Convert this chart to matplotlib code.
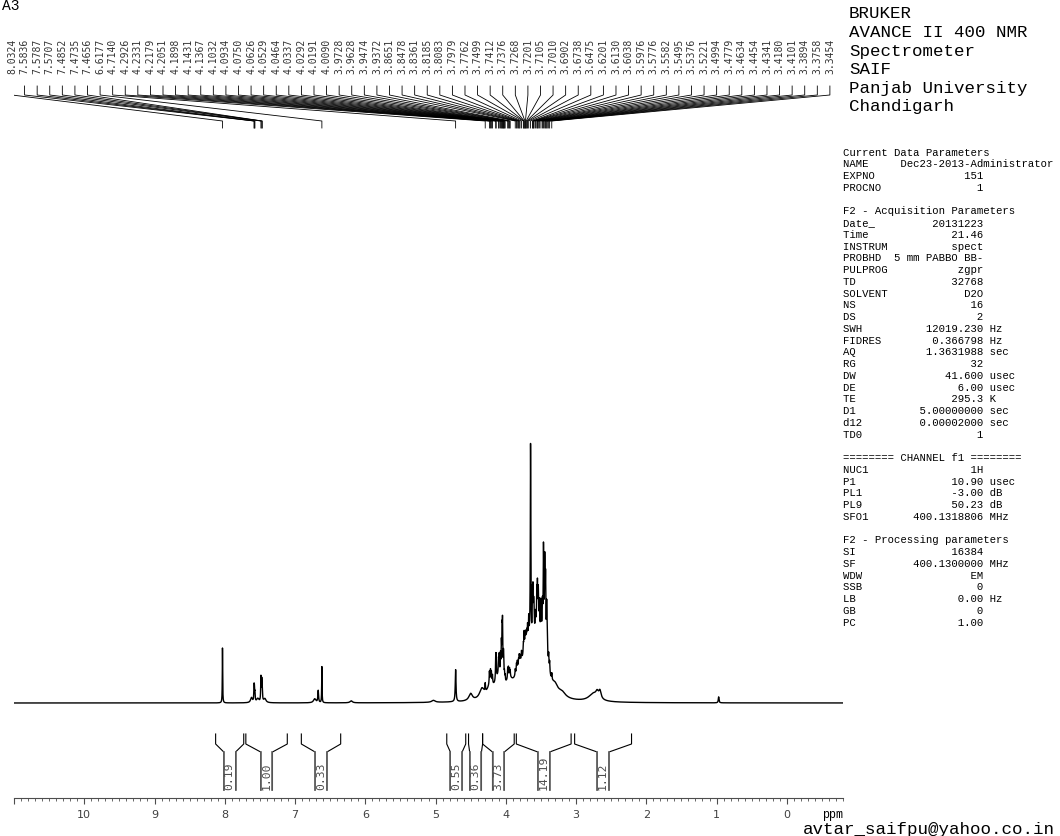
import numpy as np
import matplotlib
matplotlib.use("Agg")
import matplotlib.pyplot as plt
from matplotlib.ticker import FixedLocator, MultipleLocator

# peak picking labels (ppm)
peak_labels = [8.0324, 7.5836, 7.5787, 7.5707, 7.4852, 7.4735, 7.4656, 6.6177,
               4.7140, 4.2926, 4.2331, 4.2179, 4.2051, 4.1898, 4.1431, 4.1367,
               4.1032, 4.0934, 4.0750, 4.0626, 4.0529, 4.0464, 4.0337, 4.0292,
               4.0191, 4.0090, 3.9728, 3.9628, 3.9474, 3.9372, 3.8651, 3.8478,
               3.8361, 3.8185, 3.8083, 3.7979, 3.7762, 3.7499, 3.7412, 3.7376,
               3.7268, 3.7201, 3.7105, 3.7010, 3.6902, 3.6738, 3.6475, 3.6201,
               3.6130, 3.6038, 3.5976, 3.5776, 3.5582, 3.5495, 3.5376, 3.5221,
               3.4994, 3.4779, 3.4634, 3.4454, 3.4341, 3.4180, 3.4101, 3.3894,
               3.3758, 3.3454]
# estimated heights of the picked peaks
peak_heights = [55, 13, 11, 8, 24, 20, 10, 36,
                32, 8, 12, 12, 10, 8, 22, 20,
                14, 18, 20, 30, 40, 50, 20, 15,
                8, 6, 10, 10, 8, 6, 6, 8,
                8, 6, 8, 6, 8, 10, 12, 12,
                12, 12, 10, 10, 14, 20, 195, 40,
                40, 25, 20, 15, 30, 35, 32, 25,
                30, 25, 78, 66, 55, 40, 20, 12,
                10, 6]
peak_widths = [0.003] + [0.004] * 6 + [0.003, 0.006] + [0.004] * 57

# unpicked / broad signals (ppm, height, half width)
extra_pos = [7.62, 7.53, 7.43, 6.67, 6.72, 6.20, 5.03, 4.50, 4.34, 4.22, 4.10,
             3.95, 3.80, 3.68, 3.55, 3.45, 3.30, 3.20, 2.75, 2.66, 2.70, 0.97]
extra_h = [5, 4, 4, 12, 4, 2, 2, 7, 10, 12, 20,
           12, 20, 40, 55, 50, 8, 5, 8, 8, 5, 6]
extra_w = [0.015, 0.02, 0.02, 0.006, 0.02, 0.02, 0.03, 0.03, 0.04, 0.05, 0.06,
           0.06, 0.08, 0.08, 0.07, 0.05, 0.05, 0.06, 0.08, 0.02, 0.02, 0.006]

# integrals: region start, region end, value
int_start = [8.13, 7.70, 6.91, 4.84, 4.53, 4.33, 3.85, 3.02]
int_end = [7.73, 7.11, 6.35, 4.57, 4.33, 3.88, 3.07, 2.21]
int_values = ["0.19", "1.00", "0.33", "0.55", "0.36", "3.73", "14.19", "1.12"]

header = ["BRUKER", "AVANCE II 400 NMR", "Spectrometer", "SAIF",
          "Panjab University", "Chandigarh"]

params = [
    ("Current Data Parameters", None, None),
    ("NAME", "Dec23-2013-Administrator", None),
    ("EXPNO", "151", None),
    ("PROCNO", "1", None),
    ("", None, None),
    ("F2 - Acquisition Parameters", None, None),
    ("Date_", "20131223", None),
    ("Time", "21.46", None),
    ("INSTRUM", "spect", None),
    ("PROBHD", "5 mm PABBO BB-", None),
    ("PULPROG", "zgpr", None),
    ("TD", "32768", None),
    ("SOLVENT", "D2O", None),
    ("NS", "16", None),
    ("DS", "2", None),
    ("SWH", "12019.230", "Hz"),
    ("FIDRES", "0.366798", "Hz"),
    ("AQ", "1.3631988", "sec"),
    ("RG", "32", None),
    ("DW", "41.600", "usec"),
    ("DE", "6.00", "usec"),
    ("TE", "295.3", "K"),
    ("D1", "5.00000000", "sec"),
    ("d12", "0.00002000", "sec"),
    ("TD0", "1", None),
    ("", None, None),
    ("======== CHANNEL f1 ========", None, None),
    ("NUC1", "1H", None),
    ("P1", "10.90", "usec"),
    ("PL1", "-3.00", "dB"),
    ("PL9", "50.23", "dB"),
    ("SFO1", "400.1318806", "MHz"),
    ("", None, None),
    ("F2 - Processing parameters", None, None),
    ("SI", "16384", None),
    ("SF", "400.1300000", "MHz"),
    ("WDW", "EM", None),
    ("SSB", "0", None),
    ("LB", "0.00", "Hz"),
    ("GB", "0", None),
    ("PC", "1.00", None),
]

W, H = 1060, 837
X_LEFT, X_RIGHT = 11.0, -0.8


def fx(px):
    return px / W


def fy(py):
    return 1 - py / H


fig = plt.figure(figsize=(W / 100, H / 100), dpi=100)

# spectrum axes
ax = fig.add_axes([fx(14), fy(799), fx(843) - fx(14), fy(140) - fy(799)])
ppm = np.linspace(X_LEFT, X_RIGHT, 40000)
spec = np.zeros_like(ppm)
for p, h, w in zip(peak_labels + extra_pos, peak_heights + extra_h, peak_widths + extra_w):
    spec += h * w ** 2 / ((ppm - p) ** 2 + w ** 2)
ax.plot(ppm, spec, color="black", lw=1.0)
ax.set_xlim(X_LEFT, X_RIGHT)
ax.set_ylim(-95, 564)

for s in ["top", "left", "right"]:
    ax.spines[s].set_visible(False)
ax.spines["bottom"].set_color("0.3")
ax.spines["bottom"].set_linewidth(0.8)
ax.set_yticks([])
ax.xaxis.set_major_locator(FixedLocator(list(range(0, 12))))
ax.xaxis.set_minor_locator(MultipleLocator(0.1))
ax.set_xticklabels([str(i) if i <= 10 else "" for i in range(0, 12)])
ax.tick_params(axis="x", which="major", direction="out", length=4, width=0.8,
               color="0.3", labelsize=8, labelcolor="0.25", pad=4)
ax.tick_params(axis="x", which="minor", direction="out", length=1.8, width=0.6, color="0.3")

# integral brackets
for a, b, v in zip(int_start, int_end, int_values):
    c = (a + b) / 2
    hw = 0.084
    ax.plot([a, a, c + hw, c + hw], [-31, -41, -49, -87], color="black", lw=0.8)
    ax.plot([b, b, c - hw, c - hw], [-31, -41, -49, -87], color="black", lw=0.8)
    ax.plot([c + hw, c + hw], [-49, -87], color="0.4", lw=1.2)
    ax.plot([c - hw, c - hw], [-49, -87], color="0.4", lw=1.2)
    ax.text(c, -86, v, rotation=90, ha="center", va="bottom", fontsize=8.2,
            family="DejaVu Sans Mono", color="0.3")

# peak label axes
axl = fig.add_axes([fx(14), fy(140), fx(843) - fx(14), fy(0) - fy(140)])
axl.set_xlim(X_LEFT, X_RIGHT)
axl.set_ylim(140, 0)
axl.axis("off")
to_ppm = lambda px: X_LEFT - (px - 14) / 70.35
lab_x = np.linspace(to_ppm(12), to_ppm(831), len(peak_labels))
for lx, p in zip(lab_x, peak_labels):
    axl.text(lx, 74, "%.4f" % p, rotation=90, ha="center", va="bottom",
             fontsize=7, family="DejaVu Sans Mono", color="0.2")
    axl.plot([lx, lx, p, p], [87, 96, 122, 129], color="black", lw=0.6)

fig.text(fx(2), fy(6), "A3", fontsize=10.5, family="Liberation Mono", va="center")

for i, line in enumerate(header):
    fig.text(fx(849), fy(14 + i * 18.6), line, fontsize=12.6,
             family="Liberation Mono", va="center")

for i, (name, val, unit) in enumerate(params):
    if val is None:
        s = name
    elif len(val) > 14:
        s = name.ljust(9) + val
    else:
        s = name.ljust(8) + val.rjust(14)
        if unit:
            s += " " + unit
    fig.text(fx(843), fy(152.7 + i * 11.75), s, fontsize=7.7,
             family="Liberation Mono", va="center")

fig.text(fx(843), fy(815), "ppm", fontsize=8.5, family="Liberation Mono",
         ha="right", va="center")
fig.text(fx(803), fy(830), "avtar_saifpu@yahoo.co.in", fontsize=12.6,
         family="Liberation Mono", va="center")

fig.savefig("out.png", dpi=100)
